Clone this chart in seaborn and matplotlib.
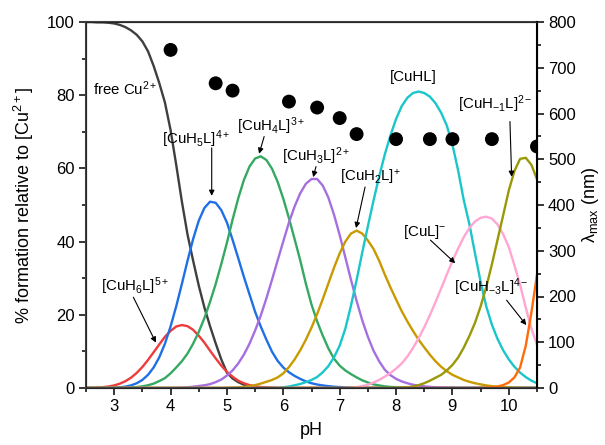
import numpy as np
import pandas as pd
import matplotlib
matplotlib.use('Agg')
import matplotlib.pyplot as plt
from matplotlib.ticker import MultipleLocator
import seaborn as sns

# pH grid shared by all species curves (step 0.1)
ph = np.round(np.arange(2.5, 10.51, 0.1), 1)

# % formation at each grid point
free_cu = [100, 100, 99.9, 99.9, 99.8, 99.6, 99.2, 98.6, 97.7, 96.5,
           94.7, 92.0, 88.0, 83.3, 78.0, 70.5, 61.0, 51.0, 42.0, 34.8,
           28.0, 22.0, 16.9, 12.2, 7.8, 4.2, 2.6, 1.6, 0.9, 0.5,
           0.3, 0.2, 0.1, 0.05] + [0.0] * 47
cuh6l = [0.03, 0.06, 0.12, 0.23, 0.41, 0.71, 1.18, 1.87, 2.84, 4.13,
         5.75, 7.66, 9.78, 11.9, 14.0, 15.6, 16.8, 17.2, 16.9, 15.9,
         14.3, 12.4, 10.2, 8.1, 6.1, 4.4, 3.1, 2.0, 1.3, 0.8,
         0.46, 0.26, 0.14, 0.07, 0.03, 0.01] + [0.0] * 45
cuh5l = [0.0, 0.0, 0.01, 0.02, 0.04, 0.09, 0.19, 0.38, 0.72, 1.3,
         2.2, 3.6, 5.6, 8.4, 12.1, 16.8, 22.3, 28.4, 34.7, 40.7,
         45.7, 49.2, 50.9, 50.6, 48.6, 45.2, 40.5, 35.5, 30.4, 25.6,
         20.8, 16.8, 13.2, 9.9, 7.4, 5.6, 4.3, 3.3, 2.5, 1.8,
         1.3, 0.95, 0.7, 0.5, 0.35, 0.25, 0.17, 0.12, 0.08, 0.05] + [0.0] * 31
cuh4l = [0.0, 0.0, 0.0, 0.0, 0.0, 0.01, 0.03, 0.06, 0.13, 0.25,
         0.45, 0.75, 1.2, 1.9, 2.7, 4.0, 5.6, 7.3, 9.4, 12.1,
         15.3, 19.1, 23.5, 28.4, 33.9, 39.7, 46.0, 51.8, 56.8, 60.5,
         62.7, 63.3, 62.3, 59.9, 56.3, 51.7, 46.4, 40.7, 34.9, 28.5,
         22.8, 18.2, 14.3, 10.8, 8.0, 6.1, 4.8, 3.8, 2.9, 2.1,
         1.5, 1.0, 0.7, 0.45, 0.3, 0.2, 0.12, 0.07, 0.04, 0.02] + [0.0] * 21
cuh3l = [0.0] * 15 + [
         0.02, 0.05, 0.1, 0.2, 0.35,
         0.55, 0.75, 1.05, 1.6, 2.3, 3.4, 4.8, 6.7, 9.1, 12.1,
         15.7, 19.8, 24.5, 29.6, 34.9, 40.1, 45.2, 49.6, 53.2, 55.8,
         57.1, 57.1, 55.3, 52.0, 47.3, 41.8, 35.7, 29.6, 23.8, 18.5,
         14.0, 10.2, 7.3, 5.0, 3.5, 2.5, 1.8, 1.3, 0.9, 0.65,
         0.45, 0.3, 0.2, 0.13, 0.08, 0.05] + [0.0] * 15
cuh2l = [0.0] * 25 + [
         0.05, 0.1, 0.2, 0.3, 0.5,
         0.8, 1.2, 1.7, 2.2, 2.9, 4.0, 5.7, 7.8, 10.3, 13.2,
         16.5, 20.2, 24.3, 28.6, 32.9, 36.8, 40.0, 42.2, 43.0, 42.2,
         40.3, 38.0, 34.8, 31.0, 27.5, 24.2, 21.0, 18.2, 15.6, 13.2,
         11.1, 9.1, 7.3, 5.8, 4.6, 3.6, 2.9, 2.2, 1.7, 1.3,
         1.0, 0.7, 0.5, 0.35, 0.25, 0.15, 0.1, 0.07, 0.04, 0.03, 0.02]
cuhl = [0.0] * 35 + [
        0.2, 0.4, 0.75, 1.1, 1.6,
        2.2, 3.0, 4.3, 6.0, 8.4, 11.6, 16.2, 22.5, 29.5, 37.0,
        44.2, 51.2, 57.8, 63.8, 69.0, 73.5, 77.0, 79.3, 80.6, 81.0,
        80.6, 79.6, 77.8, 75.2, 71.7, 66.5, 59.5, 51.4, 44.8, 36.8,
        29.0, 22.3, 17.3, 13.4, 10.3, 7.8, 5.8, 4.2, 3.0, 2.0, 1.3]
cul = [0.0] * 46 + [
       0.05, 0.1, 0.25, 0.5,
       0.9, 1.5, 2.2, 3.1, 4.1, 5.3, 6.7, 8.6, 10.9, 13.6,
       16.6, 19.9, 23.5, 27.2, 31.0, 34.7, 38.1, 41.2, 43.7, 45.5,
       46.5, 46.8, 46.3, 44.7, 42.0, 38.5, 33.5, 28.2, 22.0, 16.3, 11.8]
cuhm1l = [0.0] * 55 + [
          0.05, 0.1, 0.2, 0.4, 0.8,
          1.3, 2.0, 2.8, 3.6, 4.8, 6.3, 8.3, 11.0, 14.2, 17.8,
          22.3, 27.6, 33.8, 40.5, 47.2, 54.0, 59.3, 62.6, 62.9, 61.0, 57.0]
cuhm3l = [0.0] * 70 + [
          0.05, 0.1, 0.2, 0.4, 0.8, 1.5, 2.9, 5.6, 11.5, 20.5, 31.0]

species = ['free', 'CuH6L', 'CuH5L', 'CuH4L', 'CuH3L', 'CuH2L',
           'CuHL', 'CuL', 'CuH-1L', 'CuH-3L']
colors = ['#3f3f3f', '#ef3b3b', '#1f6fe6', '#35a862', '#a66fe0', '#c99a00',
          '#19c6c9', '#ffa6d2', '#999908', '#ff6a0a']

# lambda max (nm) points, right axis
lam_ph = [4.0, 4.8, 5.1, 6.1, 6.6, 7.0, 7.3, 8.0, 8.6, 9.0, 9.7, 10.5]
lam_nm = [739, 666, 650, 626, 613, 590, 555, 544, 544, 544, 544, 528]

sns.set_style('ticks')
plt.rcParams['font.family'] = ['Liberation Sans', 'DejaVu Sans']
plt.rcParams['mathtext.fontset'] = 'custom'
plt.rcParams['mathtext.rm'] = 'Liberation Sans'
plt.rcParams['mathtext.it'] = 'Liberation Sans:italic'
plt.rcParams['text.color'] = 'black'
plt.rcParams['axes.labelcolor'] = 'black'
plt.rcParams['xtick.color'] = 'black'
plt.rcParams['ytick.color'] = 'black'

curves = [free_cu, cuh6l, cuh5l, cuh4l, cuh3l, cuh2l, cuhl, cul, cuhm1l, cuhm3l]
df = pd.DataFrame({
    'pH': np.tile(ph, len(species)),
    'pct': np.concatenate([np.array(c, dtype=float) for c in curves]),
    'species': np.repeat(species, len(ph)),
})

fig = plt.figure(figsize=(6.05, 4.45), dpi=100)
ax = fig.add_axes([86 / 605, 57 / 445, 451 / 605, 366 / 445])
sns.lineplot(data=df, x='pH', y='pct', hue='species', hue_order=species,
             palette=colors, linewidth=1.7, legend=False, ax=ax, sort=False)

ax.set_xlim(2.5, 10.5)
ax.set_ylim(0, 100)
ax.xaxis.set_major_locator(MultipleLocator(1))
ax.xaxis.set_minor_locator(MultipleLocator(0.5))
ax.yaxis.set_major_locator(MultipleLocator(20))
ax.yaxis.set_minor_locator(MultipleLocator(10))
ax.tick_params(which='major', direction='out', length=5, width=1.1, labelsize=12, pad=3)
ax.tick_params(which='minor', direction='out', length=3, width=1.1)
ax.set_xlabel('pH', fontsize=13, labelpad=6)
ax.set_ylabel('% formation relative to [Cu$^{2+}$]', fontsize=13, labelpad=8)
for s in ['left', 'bottom', 'top']:
    ax.spines[s].set_color('#444444')
    ax.spines[s].set_linewidth(1.5)

ax2 = ax.twinx()
sns.scatterplot(x=lam_ph, y=lam_nm, color='black', s=100, edgecolor='none', ax=ax2)
ax2.set_ylim(0, 800)
ax2.yaxis.set_major_locator(MultipleLocator(100))
ax2.yaxis.set_minor_locator(MultipleLocator(50))
ax2.tick_params(which='major', direction='out', length=5, width=1.1, labelsize=12, pad=3)
ax2.tick_params(which='minor', direction='out', length=3, width=1.1)
ax2.set_ylabel('λ$_\\mathrm{max}$ (nm)', fontsize=13, labelpad=3)
ax2.spines['right'].set_linewidth(1.5)
ax2.spines['right'].set_color('black')

fs = 10.8
ax.text(2.62, 81.7, 'free Cu$^{2+}$', fontsize=fs, ha='left', va='center')
ax.text(8.31, 85.1, '[CuHL]', fontsize=fs, ha='center', va='center')

labels = [
    ('[CuH$_5$L]$^{4+}$', (4.46, 68.0), (4.73, 65.6), (4.73, 52.5)),
    ('[CuH$_4$L]$^{3+}$', (5.78, 71.5), (5.66, 68.7), (5.57, 64.0)),
    ('[CuH$_3$L]$^{2+}$', (6.59, 63.3), (6.58, 60.5), (6.53, 57.6)),
    ('[CuH$_2$L]$^{+}$', (7.55, 57.6), (7.45, 54.9), (7.29, 43.7)),
    ('[CuH$_{-1}$L]$^{2-}$', (9.76, 77.5), (10.02, 72.8), (10.05, 57.7)),
    ('[CuL]$^{-}$', (8.51, 42.5), (8.61, 40.4), (9.05, 34.1)),
    ('[CuH$_{-3}$L]$^{4-}$', (9.69, 27.5), (9.96, 24.0), (10.31, 17.2)),
    ('[CuH$_6$L]$^{5+}$', (3.38, 27.7), (3.34, 24.8), (3.74, 12.4)),
]
for txt, tpos, tail, head in labels:
    ax.text(tpos[0], tpos[1], txt, fontsize=fs, ha='center', va='center')
    ax.annotate('', xy=head, xytext=tail,
                arrowprops=dict(arrowstyle='-|>', color='black', lw=0.8,
                                mutation_scale=8, shrinkA=0, shrinkB=0))

fig.savefig('out.png', dpi=100)
